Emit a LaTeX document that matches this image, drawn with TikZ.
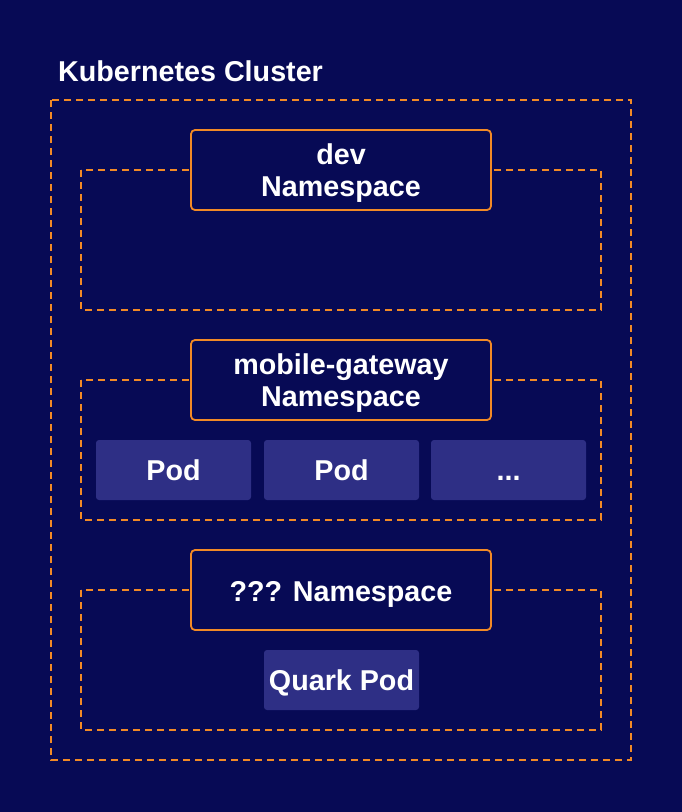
\documentclass[tikz,border=0pt]{standalone}
\usepackage{fontspec}
\setmainfont{Liberation Sans}
\definecolor{bgc}{HTML}{070A55}
\definecolor{podc}{HTML}{2E2F85}
\definecolor{orng}{HTML}{F28A26}
\begin{document}
\begin{tikzpicture}[x=1pt,y=-1pt,
  lbl/.style={font=\fontsize{28.7}{32}\selectfont\bfseries,text=white},
  zone/.style={draw=orng,line width=1.6pt,dash pattern=on 7pt off 5pt},
  nsbox/.style={draw=orng,line width=1.8pt,fill=bgc,rounded corners=4pt,minimum width=300pt,minimum height=80pt,inner sep=0pt},
  nstext/.style={align=center,inner sep=0pt,lbl,yshift=-3.5pt},
  podbox/.style={fill=podc,rounded corners=3pt,minimum width=155pt,minimum height=60pt,inner sep=0pt,text height=20.5pt,text depth=0pt,lbl}]
\fill[bgc] (0,0) rectangle (682,812);
\useasboundingbox (0,0) rectangle (682,812);
\node[lbl,anchor=west,inner sep=0pt] (title) at (58,71) {Kubernetes Cluster};
\draw[zone] (51,100) rectangle (631,760);
% dev
\draw[zone] (81,170) rectangle (601,310);
\node[nsbox] (dev) at (341,170) {};
\node[nstext] (devt) at (dev.center) {dev\\Namespace};
% mobile-gateway
\draw[zone] (81,380) rectangle (601,520);
\node[nsbox] (mg) at (341,380) {};
\node[nstext] (mgt) at (mg.center) {mobile-gateway\\Namespace};
\node[podbox] (p1) at (173.5,470) {Pod};
\node[podbox] (p2) at (341.5,470) {Pod};
\node[podbox] (p3) at (508.5,470) {...};
% ???
\draw[zone] (81,590) rectangle (601,730);
\node[nsbox] (q) at (341,590) {};
\node[nstext,yshift=-0.5pt] (qt) at (q.center) {??? Namespace};
\node[podbox] (qp) at (341.5,680) {Quark Pod};
\end{tikzpicture}
\end{document}
